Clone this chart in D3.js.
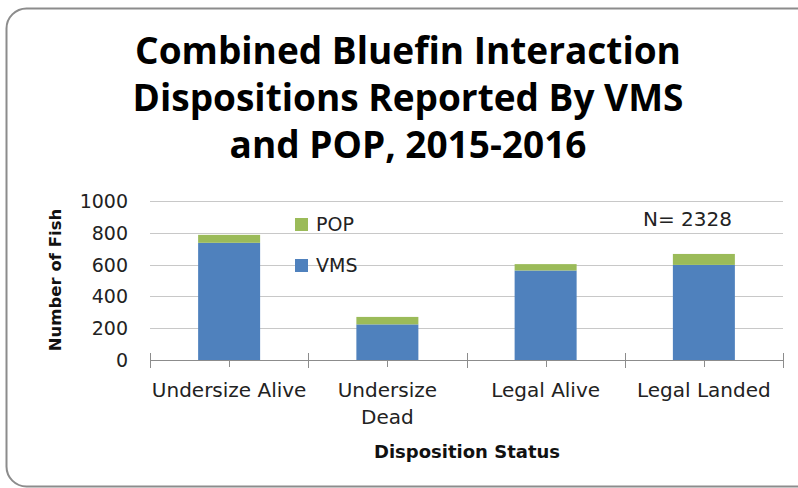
<!DOCTYPE html>
<html>
<head>
<meta charset="utf-8">
<script src="https://cdn.jsdelivr.net/npm/d3@7"></script>
<style>
  body { margin: 0; background: #fff; }
  svg { display: block; }
</style>
</head>
<body>
<svg width="798" height="488"></svg>
<script>
const categories = [["Undersize Alive"], ["Undersize", "Dead"], ["Legal Alive"], ["Legal Landed"]];
const vms = [737, 224, 563, 598];
const pop = [50, 47, 40, 69];
const yTicks = [0, 200, 400, 600, 800, 1000];
const titleLines = ["Combined Bluefin Interaction", "Dispositions Reported By VMS", "and POP, 2015-2016"];

const blue = "#4f81bd";
const green = "#9bbb59";
const font = "'DejaVu Sans', sans-serif";

const svg = d3.select("svg");

// frame round the chart
svg.append("rect")
  .attr("x", 6.5).attr("y", 8.5)
  .attr("width", 810).attr("height", 478)
  .attr("rx", 20)
  .attr("fill", "#fff")
  .attr("stroke", "#8c8c8c")
  .attr("stroke-width", 2);

// title
svg.append("text")
  .attr("x", 408)
  .attr("font-family", "'Open Sans', sans-serif")
  .attr("font-weight", "bold")
  .attr("font-size", 37)
  .attr("text-anchor", "middle")
  .selectAll("tspan")
  .data(titleLines)
  .enter()
  .append("tspan")
  .attr("x", 408)
  .attr("y", (d, i) => 64 + i * 47)
  .text(d => d);

const xOuter = d3.scaleBand()
  .domain(d3.range(categories.length))
  .range([150, 783]);

const y = d3.scaleLinear()
  .domain([0, 1000])
  .range([360, 201]);

const barW = 62;
const mid = i => xOuter(i) + xOuter.bandwidth() / 2;

// gridlines
svg.append("g")
  .selectAll("line")
  .data(yTicks.slice(1))
  .enter()
  .append("line")
  .attr("x1", 150).attr("x2", 783)
  .attr("y1", d => Math.round(y(d)) + 0.5)
  .attr("y2", d => Math.round(y(d)) + 0.5)
  .attr("stroke", "#c8c8c8")
  .attr("stroke-width", 1);

// y tick labels
svg.append("g")
  .selectAll("text")
  .data(yTicks)
  .enter()
  .append("text")
  .attr("x", 128)
  .attr("y", d => y(d) + 7)
  .attr("text-anchor", "end")
  .attr("font-family", font)
  .attr("font-size", 19)
  .attr("fill", "#222")
  .text(d => d);

// stacked bars
const bars = svg.append("g");
bars.selectAll("rect.vms")
  .data(vms)
  .enter()
  .append("rect")
  .attr("class", "vms")
  .attr("x", (d, i) => mid(i) - barW / 2)
  .attr("width", barW)
  .attr("y", d => y(d))
  .attr("height", d => y(0) - y(d))
  .attr("fill", blue);

bars.selectAll("rect.pop")
  .data(pop)
  .enter()
  .append("rect")
  .attr("class", "pop")
  .attr("x", (d, i) => mid(i) - barW / 2)
  .attr("width", barW)
  .attr("y", (d, i) => y(vms[i] + d))
  .attr("height", (d, i) => y(vms[i]) - y(vms[i] + d))
  .attr("fill", green);

// x axis line and ticks
const axis = svg.append("g").attr("stroke", "#8c8c8c").attr("stroke-width", 1);
axis.append("line")
  .attr("x1", 150).attr("x2", 783)
  .attr("y1", 360.5).attr("y2", 360.5);

const bounds = d3.range(categories.length + 1).map(i => i < categories.length ? xOuter(i) : 783);
axis.selectAll("line.bound")
  .data(bounds)
  .enter()
  .append("line")
  .attr("class", "bound")
  .attr("x1", d => Math.round(d) + 0.5).attr("x2", d => Math.round(d) + 0.5)
  .attr("y1", 353).attr("y2", 368);

axis.selectAll("line.mid")
  .data(d3.range(categories.length))
  .enter()
  .append("line")
  .attr("class", "mid")
  .attr("x1", i => Math.round(mid(i)) + 0.5)
  .attr("x2", i => Math.round(mid(i)) + 0.5)
  .attr("y1", 360).attr("y2", 367);

// category labels
svg.append("g")
  .selectAll("text")
  .data(categories)
  .enter()
  .append("text")
  .attr("text-anchor", "middle")
  .attr("font-family", font)
  .attr("font-size", 20)
  .attr("fill", "#222")
  .each(function (d, i) {
    d3.select(this).selectAll("tspan")
      .data(d)
      .enter()
      .append("tspan")
      .attr("x", mid(i))
      .attr("y", (t, j) => 397 + j * 27)
      .text(t => t);
  });

// axis titles
svg.append("text")
  .attr("x", 467).attr("y", 458)
  .attr("text-anchor", "middle")
  .attr("font-family", font)
  .attr("font-weight", "bold")
  .attr("font-size", 18)
  .attr("fill", "#111")
  .text("Disposition Status");

svg.append("text")
  .attr("transform", "translate(61,280) rotate(-90)")
  .attr("text-anchor", "middle")
  .attr("font-family", font)
  .attr("font-weight", "bold")
  .attr("font-size", 16.5)
  .attr("fill", "#111")
  .text("Number of Fish");

// legend
const legend = [["POP", green], ["VMS", blue]];
const lg = svg.append("g");
lg.selectAll("rect")
  .data(legend)
  .enter()
  .append("rect")
  .attr("x", 295)
  .attr("y", (d, i) => 218 + i * 41)
  .attr("width", 13).attr("height", 13)
  .attr("fill", d => d[1]);
lg.selectAll("text")
  .data(legend)
  .enter()
  .append("text")
  .attr("x", 316)
  .attr("y", (d, i) => 231 + i * 41)
  .attr("font-family", font)
  .attr("font-size", 19)
  .attr("fill", "#222")
  .text(d => d[0]);

// total count
const total = d3.sum(vms) + d3.sum(pop);
svg.append("text")
  .attr("x", 643).attr("y", 226)
  .attr("font-family", font)
  .attr("font-size", 20)
  .attr("fill", "#222")
  .text("N= " + total);
</script>
</body>
</html>
